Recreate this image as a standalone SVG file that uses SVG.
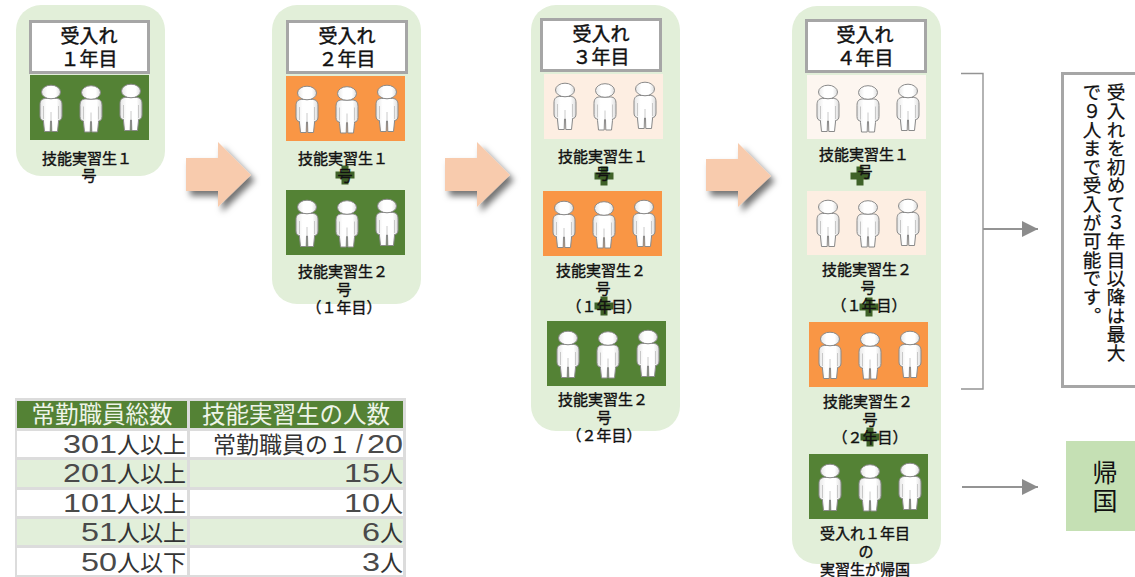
<svg xmlns="http://www.w3.org/2000/svg" width="1135" height="577" viewBox="0 0 1135 577">
<style>
text{font-family:"Noto Sans CJK JP","Noto Sans CJK SC",sans-serif;fill:#111}
.card{fill:#e2efd9}
.title{fill:#fff;stroke:#a6a6a6;stroke-width:3}
.tt{font-size:19px;text-anchor:middle;font-weight:400;stroke:#111;stroke-width:.45}
.lb{font-size:15px;text-anchor:middle;font-weight:400;stroke:#111;stroke-width:.4}
.g{fill:#548235}.o{fill:#f99645}.p{fill:#fdeee2}.q{fill:#fdf6f0}
.plus{fill:#3f6228}
.blk{fill:#f8cbad;filter:url(#sh)}
.ln{fill:none;stroke:#949494;stroke-width:2}
.br{fill:none;stroke:#949494;stroke-width:1.4}
.hd{fill:#548235}.gr{fill:#dcdcdc}.w{fill:#fff}.alt{fill:#e2efda}
.th{font-size:23.5px;fill:#eef4e8;text-anchor:middle;font-weight:400}
.td{font-size:23px;text-anchor:end;font-weight:400;fill:#333}
.num{font-family:"Liberation Sans",sans-serif;font-size:25px;font-weight:400;fill:#4a4a4a}
.v{font-size:18.6px;writing-mode:vertical-rl;font-weight:400;stroke:#111;stroke-width:.25}
.pf{fill:url(#pg);stroke:#8a8a8a;stroke-width:1}
.pl{fill:none;stroke:#bdbdbd;stroke-width:.8}
</style>
<defs>
<linearGradient id="pg" x1="0" x2="1" y1="0" y2="0"><stop offset="0" stop-color="#e6e6e6"/><stop offset=".3" stop-color="#fff"/><stop offset=".75" stop-color="#fff"/><stop offset="1" stop-color="#dcdcdc"/></linearGradient>
<filter id="sh" x="-20%" y="-20%" width="150%" height="150%"><feDropShadow dx="4" dy="5" stdDeviation="3.2" flood-color="#000" flood-opacity=".55"/></filter>
<marker id="ah" markerUnits="userSpaceOnUse" markerWidth="17" markerHeight="17" refX="16" refY="8" orient="auto"><path d="M0 0L16 8L0 16Z" fill="#8c8c8c"/></marker>
<g id="person">
<path class="pf" d="M-5.500 13.500C-9.500 13.500-11 16-11 20L-11 31C-11 34-9.500 35.500-7.500 35.500L-7.500 37L-6.500 46.500L-.8 46.500L-.5 36L.5 36L.8 46.500L6.500 46.500L7.500 37L7.500 35.500C9.500 35.500 11 34 11 31L11 20C11 16 9.500 13.500 5.500 13.500Z"/>
<ellipse class="pf" cx="0" cy="7" rx="9.500" ry="6.800"/>
<path class="pl" d="M-7.500 21L-7.500 34M7.500 21L7.500 34M0 36L0 27"/>
</g>
<g id="trio">
<use href="#person" x="21" y="10"/><use href="#person" x="61" y="10.500"/><use href="#person" x="101" y="9"/>
</g>
<path id="plus" class="plus" d="M-3.500-9.500h7v6h6v7h-6v6h-7v-6h-6v-7h6z"/>
</defs>

<g id="connectors">
<path class="blk" d="M186 158H218V142L251 175L218 207V191H186Z"/>
<path class="blk" d="M445 158H477V142L510 175L477 207V191H445Z"/>
<path class="blk" d="M706 159H738V143L771 176L738 207V191H706Z"/>
<path class="br" d="M961 73.500H983V389H961"/>
<path class="ln" d="M983 229H1038" marker-end="url(#ah)"/>
<path class="ln" d="M962 487H1038" marker-end="url(#ah)"/>
</g>

<g id="card-year1">
<rect class="card" x="16" y="5" width="149" height="171" rx="25"/>
<rect class="title" x="30.500" y="21.500" width="118" height="51"/>
<text class="tt" x="89" y="43">受入れ</text><text class="tt" x="89" y="66">１年目</text>
<rect class="g" x="30" y="75" width="119" height="65"/><use href="#trio" x="30" y="75"/>
<text class="lb" x="87" y="163.500">技能実習生１</text><text class="lb" x="89" y="181">号</text>
</g>

<g id="card-year2">
<rect class="card" x="272" y="5" width="149" height="299" rx="25"/>
<rect class="title" x="287.500" y="21.500" width="119" height="51"/>
<text class="tt" x="347" y="43">受入れ</text><text class="tt" x="347" y="66">２年目</text>
<rect class="o" x="286" y="76" width="119" height="65"/><use href="#trio" x="286" y="76"/>
<use href="#plus" x="345" y="175"/>
<text class="lb" x="343" y="163.500">技能実習生１</text><text class="lb" x="345" y="181">号</text>
<rect class="g" x="286" y="190" width="119" height="65"/><use href="#trio" x="286" y="190"/>
<text class="lb" x="343" y="277">技能実習生２</text><text class="lb" x="344" y="295">号</text><text class="lb" x="344" y="313">（１年目）</text>
</g>

<g id="card-year3">
<rect class="card" x="531" y="5" width="149" height="426" rx="25"/>
<rect class="title" x="541.500" y="19.500" width="119" height="51"/>
<text class="tt" x="601" y="41">受入れ</text><text class="tt" x="601" y="64">３年目</text>
<rect class="p" x="544" y="74" width="119" height="65"/><use href="#trio" x="544" y="73"/>
<use href="#plus" x="604" y="176"/>
<text class="lb" x="603" y="162">技能実習生１</text><text class="lb" x="603" y="179">号</text>
<rect class="o" x="543" y="191" width="119" height="65"/><use href="#trio" x="543" y="191"/>
<use href="#plus" x="604" y="306"/>
<text class="lb" x="601" y="276">技能実習生２</text><text class="lb" x="603" y="294">号</text><text class="lb" x="604" y="312">（１年目）</text>
<rect class="g" x="547" y="321" width="119" height="65"/><use href="#trio" x="547" y="321"/>
<text class="lb" x="603" y="405">技能実習生２</text><text class="lb" x="604" y="423">号</text><text class="lb" x="604" y="441">（２年目）</text>
</g>

<g id="card-year4">
<rect class="card" x="792" y="6" width="149" height="558" rx="25"/>
<rect class="title" x="806.500" y="20.500" width="119" height="51"/>
<text class="tt" x="865" y="42">受入れ</text><text class="tt" x="865" y="65">４年目</text>
<rect class="q" x="807" y="75" width="119" height="64"/><use href="#trio" x="807" y="75"/>
<use href="#plus" x="860" y="176"/>
<text class="lb" x="864" y="160">技能実習生１</text><text class="lb" x="865" y="177">号</text>
<rect class="p" x="807" y="191" width="119" height="64"/><use href="#trio" x="807" y="190"/>
<use href="#plus" x="869" y="307"/>
<text class="lb" x="867" y="275">技能実習生２</text><text class="lb" x="868" y="293">号</text><text class="lb" x="869" y="311">（１年目）</text>
<rect class="o" x="809" y="322" width="119" height="65"/><use href="#trio" x="809" y="322"/>
<use href="#plus" x="870" y="437"/>
<text class="lb" x="868" y="407">技能実習生２</text><text class="lb" x="870" y="425">号</text><text class="lb" x="870" y="443">（２年目）</text>
<rect class="g" x="809" y="454" width="119" height="65"/><use href="#trio" x="809" y="454"/>
<text class="lb" x="865" y="539">受入れ１年目</text><text class="lb" x="866" y="557">の</text><text class="lb" x="865" y="574.500">実習生が帰国</text>
</g>

<g id="note-box">
<rect x="1062.500" y="73.500" width="80" height="313" fill="#fff" stroke="#a6a6a6" stroke-width="3"/>
<text class="v" x="1116" y="83">受入れを初めて３年目以降は最大</text>
<text class="v" x="1092" y="83">で９人まで受入が可能です。</text>
</g>

<g id="return-box">
<rect x="1066" y="441" width="69" height="90" fill="#c5e0b4"/>
<text x="1105" y="482" font-size="25" text-anchor="middle">帰</text>
<text x="1105" y="510" font-size="25" text-anchor="middle">国</text>
</g>

<g id="table">
<rect class="gr" x="15" y="398" width="391" height="179"/>
<rect class="hd" x="17" y="401" width="170" height="27"/><rect class="hd" x="190" y="401" width="213" height="27"/>
<rect class="w" x="17" y="431" width="170" height="26"/><rect class="w" x="190" y="431" width="213" height="26"/>
<rect class="alt" x="17" y="460" width="170" height="27"/><rect class="alt" x="190" y="460" width="213" height="27"/>
<rect class="w" x="17" y="490" width="170" height="26"/><rect class="w" x="190" y="490" width="213" height="26"/>
<rect class="alt" x="17" y="519" width="170" height="26"/><rect class="alt" x="190" y="519" width="213" height="26"/>
<rect class="w" x="17" y="548" width="170" height="27"/><rect class="w" x="190" y="548" width="213" height="27"/>
<text class="th" x="102" y="423">常勤職員総数</text><text class="th" x="296" y="423">技能実習生の人数</text>
<text class="td" x="186" y="453"><tspan class="num" textLength="54" lengthAdjust="spacingAndGlyphs">301</tspan>人以上</text>
<text class="td" x="403" y="453">常勤職員の１<tspan class="num" dx="5" fill="#888">/</tspan><tspan class="num" dx="4" textLength="36" lengthAdjust="spacingAndGlyphs">20</tspan></text>
<text class="td" x="186" y="482"><tspan class="num" textLength="54" lengthAdjust="spacingAndGlyphs">201</tspan>人以上</text>
<text class="td" x="403" y="482"><tspan class="num" textLength="36" lengthAdjust="spacingAndGlyphs">15</tspan>人</text>
<text class="td" x="186" y="512"><tspan class="num" textLength="54" lengthAdjust="spacingAndGlyphs">101</tspan>人以上</text>
<text class="td" x="403" y="512"><tspan class="num" textLength="36" lengthAdjust="spacingAndGlyphs">10</tspan>人</text>
<text class="td" x="186" y="541"><tspan class="num" textLength="36" lengthAdjust="spacingAndGlyphs">51</tspan>人以上</text>
<text class="td" x="403" y="541"><tspan class="num" textLength="18" lengthAdjust="spacingAndGlyphs">6</tspan>人</text>
<text class="td" x="186" y="571"><tspan class="num" textLength="36" lengthAdjust="spacingAndGlyphs">50</tspan>人以下</text>
<text class="td" x="403" y="571"><tspan class="num" textLength="18" lengthAdjust="spacingAndGlyphs">3</tspan>人</text>
</g>
</svg>
